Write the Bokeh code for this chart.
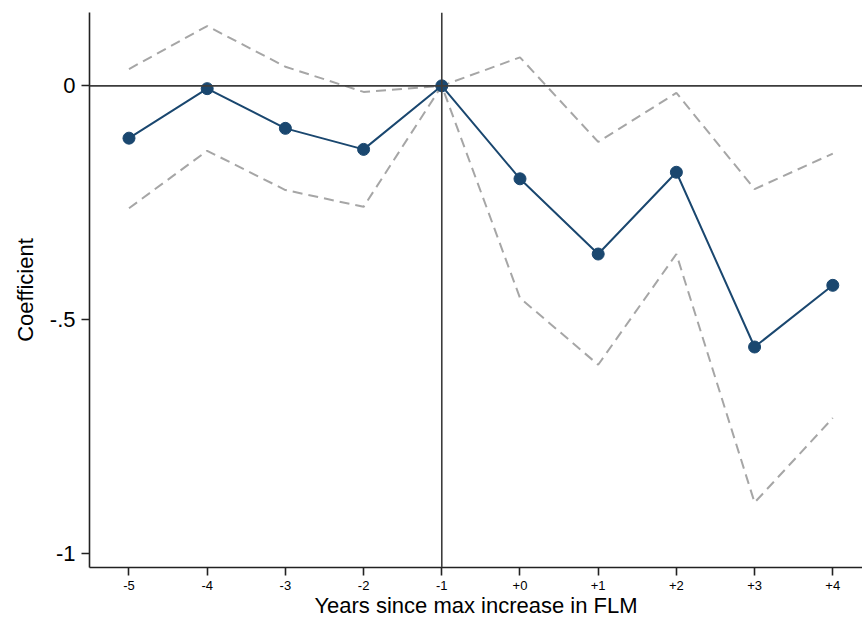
from bokeh.plotting import figure
from bokeh.models import Span, FixedTicker
from bokeh.embed import file_html
from bokeh.resources import INLINE

years = [-5, -4, -3, -2, -1, 0, 1, 2, 3, 4]
tick_labels = ["-5", "-4", "-3", "-2", "-1", "+0", "+1", "+2", "+3", "+4"]
coef = [-0.112, -0.006, -0.091, -0.136, 0.0, -0.199, -0.360, -0.185, -0.559, -0.427]
ci_upper = [0.036, 0.128, 0.041, -0.013, 0.0, 0.061, -0.120, -0.015, -0.221, -0.145]
ci_lower = [-0.262, -0.139, -0.223, -0.259, 0.0, -0.454, -0.597, -0.360, -0.892, -0.711]
y_ticks = [0, -0.5, -1]
y_tick_labels = ["0", "-.5", "-1"]

FONT = "Liberation Sans"
NAVY = "#1a476f"
GRAY = "#a6a6a6"

p = figure(width=862, height=620, output_backend="svg", toolbar_location=None,
           x_range=(-5.505, 4.38), y_range=(-1.031, 0.157),
           min_border_left=89, min_border_right=0, min_border_top=12, min_border_bottom=52)
p.outline_line_color = None
p.grid.grid_line_color = None
p.background_fill_color = "white"
p.border_fill_color = "white"

# reference lines
p.add_layout(Span(location=0, dimension="width", line_color="#3c3c3c", line_width=1.6))
p.add_layout(Span(location=-1, dimension="height", line_color="#3c3c3c", line_width=1.6))

# confidence bands
p.line(years, ci_upper, line_color=GRAY, line_width=2, line_dash="10 6")
p.line(years, ci_lower, line_color=GRAY, line_width=2, line_dash="10 6")

# coefficients
p.line(years, coef, line_color=NAVY, line_width=2)
p.scatter(years, coef, size=12, fill_color=NAVY, line_color=NAVY)

# x axis
p.xaxis.ticker = FixedTicker(ticks=years)
p.xaxis.major_label_overrides = {y: l for y, l in zip(years, tick_labels)}
p.xaxis.axis_label = "Years since max increase in FLM"
p.xaxis.axis_label_text_font = FONT
p.xaxis.axis_label_text_font_style = "normal"
p.xaxis.axis_label_text_font_size = "22px"
p.xaxis.axis_label_text_color = "black"
p.xaxis.axis_label_standoff = 0
p.xaxis.major_label_text_font = FONT
p.xaxis.major_label_text_font_size = "13px"
p.xaxis.major_label_text_color = "black"
p.xaxis.major_label_standoff = 5
p.xaxis.major_tick_out = 8
p.xaxis.major_tick_in = 0
p.xaxis.minor_tick_line_color = None
p.xaxis.axis_line_width = 1.6
p.xaxis.major_tick_line_width = 1.6
p.xaxis.axis_line_color = "#222222"
p.xaxis.major_tick_line_color = "#222222"

# y axis
p.yaxis.ticker = FixedTicker(ticks=y_ticks)
p.yaxis.major_label_overrides = {v: l for v, l in zip(y_ticks, y_tick_labels)}
p.yaxis.axis_label = "Coefficient"
p.yaxis.axis_label_text_font = FONT
p.yaxis.axis_label_text_font_style = "normal"
p.yaxis.axis_label_text_font_size = "22px"
p.yaxis.axis_label_text_color = "black"
p.yaxis.axis_label_standoff = 9
p.yaxis.major_label_text_font = FONT
p.yaxis.major_label_text_font_size = "22px"
p.yaxis.major_label_text_color = "black"
p.yaxis.major_label_orientation = "horizontal"
p.yaxis.major_label_standoff = 6
p.yaxis.major_tick_out = 8
p.yaxis.major_tick_in = 0
p.yaxis.minor_tick_line_color = None
p.yaxis.axis_line_width = 1.6
p.yaxis.major_tick_line_width = 1.6
p.yaxis.axis_line_color = "#222222"
p.yaxis.major_tick_line_color = "#222222"

open("out.html", "w").write(file_html(p, INLINE))
